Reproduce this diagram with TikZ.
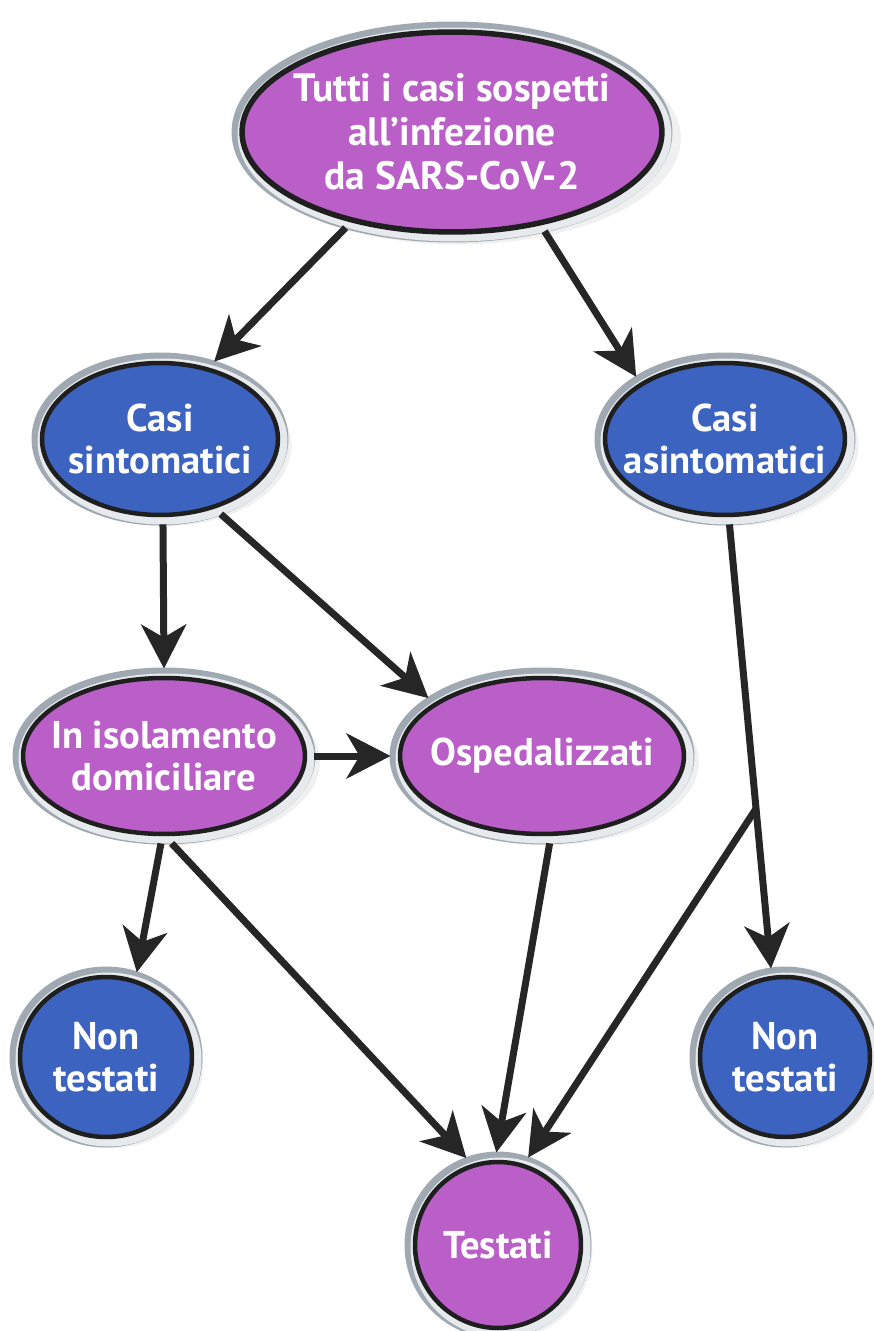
\documentclass[tikz,border=0pt]{standalone}
\usepackage{fontspec}
\setmainfont{PT Sans}
\usetikzlibrary{arrows.meta,shapes.geometric,shadows}

\definecolor{casepurple}{RGB}{186,94,200}
\definecolor{caseblue}{RGB}{59,99,191}
\definecolor{ringgray}{RGB}{160,169,177}
\definecolor{ringlight}{RGB}{230,234,237}

\begin{document}
\begin{tikzpicture}[x=0.02cm, y=-0.02cm,
    bubble/.style={ellipse, draw=black!88, line width=0.09cm, inner xsep=-1.3cm, inner ysep=0pt,
        outer sep=0.19cm, text=white, align=center, font=\bfseries\fontsize{22}{23.5}\selectfont,
        drop shadow={shadow xshift=0.12cm, shadow yshift=-0.12cm, shadow scale=1.06, opacity=0.12},
        preaction={draw=ringgray, line width=0.42cm},
        preaction={draw=ringlight, line width=0.28cm, transform canvas={xshift=0.05cm, yshift=-0.05cm}}},
    purplebubble/.style={bubble, fill=casepurple},
    bluebubble/.style={bubble, fill=caseblue},
    flow/.style={line width=0.14cm, draw=black!85, -{Stealth[length=0.88cm, width=0.9cm, inset=0.26cm]}}]
    \useasboundingbox (0,0) rectangle (874,1331);
    % Nodes and arrows:
    \node[purplebubble, minimum width=8.4cm, minimum height=4cm, line width=0.11cm, font=\bfseries\fontsize{22.5}{25}\selectfont] (all) at (452,132) {Tutti i casi sospetti\\all’infezione\\da SARS-CoV-2};
    \node[bluebubble, minimum width=4.72cm, minimum height=3.04cm] (sint) at (160,439) {Casi\\sintomatici};
    \node[bluebubble, minimum width=4.8cm, minimum height=3.04cm] (asint) at (725,439) {Casi\\asintomatici};
    \node[purplebubble, minimum width=5.64cm, minimum height=3.12cm] (isol) at (164,756) {In isolamento\\domiciliare};
    \node[purplebubble, minimum width=5.68cm, minimum height=3.12cm] (osp) at (542,756) {Ospedalizzati};
    \node[bluebubble, minimum width=3.44cm, minimum height=3.2cm] (ntsint) at (106,1057) {Non\\testati};
    \node[bluebubble, minimum width=3.4cm, minimum height=3.2cm] (ntasint) at (785,1057) {Non\\testati};
    \node[purplebubble, minimum width=3.32cm, minimum height=3.32cm] (test) at (498,1245) {Testati};
    \draw[flow] (all.222) -- (sint.55);
    \draw[flow] (all.313) -- (asint.145);
    \draw[flow] (sint.272) -- (isol.90);
    \draw[flow] (sint.309) -- (osp.153);
    \draw[flow] (isol.0) -- (osp.180);
    \draw[flow] (isol.268) -- (ntsint.70);
    \draw[flow] (isol.275) -- (test.110);
    \draw[flow] (osp.275) -- (test.91);
    \draw[flow] (asint.273) -- (ntasint.99) coordinate[pos=0.64] (fork);
    \draw[flow] (fork) -- (test.71);
\end{tikzpicture}
\end{document}
